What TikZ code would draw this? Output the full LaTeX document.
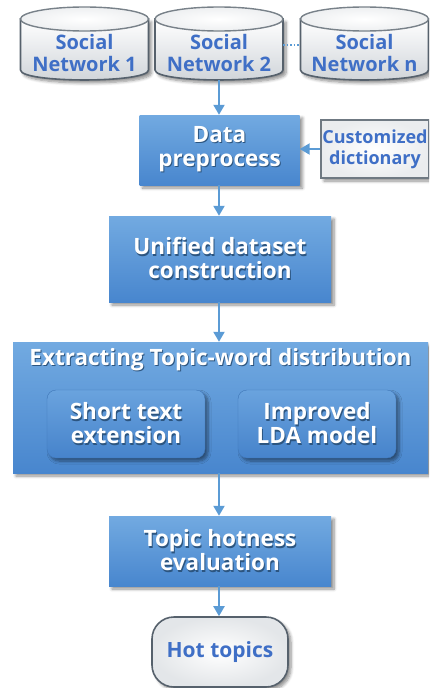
\documentclass[tikz,border=0pt]{standalone}
\usepackage{fontspec}
\setmainfont{Open Sans}
\usetikzlibrary{arrows.meta,shadows.blur}

\definecolor{boxtop}{HTML}{72AAE1}
\definecolor{boxbot}{HTML}{4886CE}
\definecolor{innertop}{HTML}{6AA3DE}
\definecolor{innerbot}{HTML}{4683CB}
\definecolor{txtblue}{HTML}{3F6FC6}
\definecolor{flowblue}{HTML}{5B9BD5}
\definecolor{cyledge}{HTML}{56616C}
\definecolor{cylgray}{HTML}{B9C0C7}
\definecolor{txtshadow}{HTML}{2C5580}

% white label with a soft dark copy beneath it
\newcommand\shtext[1]{\leavevmode\rlap{\kern1pt\raisebox{-1.2pt}{\textcolor{txtshadow}{#1}}}#1}

\tikzset{
  softshadow/.style={blur shadow={shadow xshift=3pt,shadow yshift=-3pt,
      shadow blur radius=3pt,shadow blur steps=6,shadow opacity=45}},
  whitefont/.style={font=\bfseries\fontsize{22.5}{24}\selectfont},
  bluebox/.style={rectangle,top color=boxtop,bottom color=boxbot,draw=none,
      text=white,align=center,softshadow,whitefont},
  innerbox/.style={rectangle,rounded corners=9pt,top color=innertop,
      bottom color=innerbot,draw=innerbot!90!black,line width=0.4pt,
      text=white,align=center,softshadow,
      minimum width=158pt,minimum height=68pt,whitefont},
  cyltext/.style={rectangle,minimum width=128pt,minimum height=54pt,
      inner sep=0pt,text=txtblue,align=center,
      font=\bfseries\fontsize{20}{22}\selectfont},
  cylbody/.style={top color=white,bottom color=cylgray!70,
      draw=cyledge,line width=1.6pt,softshadow},
  cyltop/.style={inner color=white,outer color=cylgray!25,draw=cyledge!80,line width=1.4pt},
  dictbox/.style={rectangle,draw=cyledge!85,line width=1.6pt,
      inner color=white,outer color=cylgray!30,softshadow,
      minimum width=108pt,minimum height=58pt,inner sep=0pt,
      text=txtblue,align=center,
      font=\bfseries\fontsize{18}{21}\selectfont},
  endbox/.style={rectangle,rounded corners=22pt,draw=cyledge,line width=1.6pt,
      inner color=white,outer color=cylgray!40,softshadow,
      minimum width=136pt,minimum height=70pt,
      text=txtblue,font=\bfseries\fontsize{21}{24}\selectfont},
  flow/.style={draw=flowblue,line width=2pt,
      -{Triangle[width=11pt,length=10pt]}},
  dotline/.style={draw=flowblue,line width=1.5pt,dotted},
  pics/dbcyl/.style={code={
    \path[cylbody] (-64,-34) -- (-64,17)
        .. controls (-64,30.3) and (64,30.3) .. (64,17) -- (64,-34) -- cycle;
    \path[cyltop] (0,-34) ellipse [x radius=64, y radius=12];
  }}
}

\begin{document}
\begin{tikzpicture}[x=1pt,y=-1pt]
\useasboundingbox (0,0) rectangle (429,688);
\clip (0,0) rectangle (429,688);

% source databases
\pic at (84.5,53) {dbcyl};
\pic at (219,53) {dbcyl};
\pic at (364.5,53) {dbcyl};
\node[cyltext] (sn1) at (84.5,53) {Social\\Network 1};
\node[cyltext] (sn2) at (219,53) {Social\\Network 2};
\node[cyltext] (snn) at (364.5,53) {Social\\Network n};
\draw[dotline] ([yshift=8pt]sn2.east) -- ([yshift=8pt]snn.west);

% processing chain
\node[bluebox,minimum width=160pt,minimum height=70pt] (prep) at (219.5,150)
  {\shtext{Data}\\\shtext{preprocess}};
\node[dictbox] (dict) at (375,149) {Customized\\dictionary};
\node[bluebox,minimum width=222pt,minimum height=86pt] (unify) at (220,259)
  {\shtext{Unified dataset}\\\shtext{construction}};

\node[bluebox,minimum width=415pt,minimum height=131pt] (extract) at (220.5,407.5) {};
\node[text=white,whitefont] (etitle) at (220.5,360)
  {\shtext{Extracting Topic-word distribution}};
\node[innerbox] (short) at (126,424) {\shtext{Short text}\\\shtext{extension}};
\node[innerbox] (lda) at (317,424) {\shtext{Improved}\\\shtext{LDA model}};

\node[bluebox,minimum width=222pt,minimum height=70pt] (hot) at (220,551)
  {\shtext{Topic hotness}\\\shtext{evaluation}};
\node[endbox] (result) at (220,652) {Hot topics};

% connectors
\draw[flow] (sn2.south) -- (sn2.south |- prep.north);
\draw[flow] (dict.west) -- (dict.west -| prep.east);
\draw[flow] (prep.south -| sn2.south) -- (sn2.south |- unify.north);
\draw[flow] (unify.south -| sn2.south) -- (sn2.south |- extract.north);
\draw[flow] (extract.south -| sn2.south) -- (sn2.south |- hot.north);
\draw[flow] (hot.south -| sn2.south) -- (sn2.south |- result.north);
\end{tikzpicture}
\end{document}
